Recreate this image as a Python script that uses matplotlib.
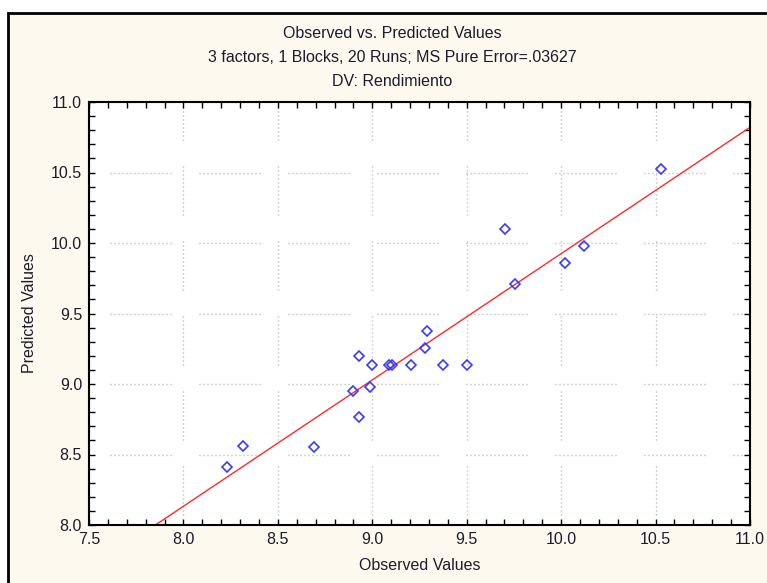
import numpy as np
import matplotlib.pyplot as plt
from matplotlib.patches import Rectangle
from matplotlib.ticker import MultipleLocator

# observed vs predicted values
observed = [10.529, 9.701, 10.123, 10.022, 9.756, 9.288, 9.281, 8.928, 8.997, 9.089,
            9.103, 9.205, 9.376, 9.502, 8.899, 8.988, 8.930, 8.317, 8.690, 8.231]
predicted = [10.525, 10.097, 9.977, 9.858, 9.707, 9.378, 9.257, 9.199, 9.133, 9.133,
             9.133, 9.133, 9.133, 9.133, 8.952, 8.977, 8.768, 8.560, 8.551, 8.411]

title_lines = ["Observed vs. Predicted Values",
               "3 factors, 1 Blocks, 20 Runs; MS Pure Error=.03627",
               "DV: Rendimiento"]

plt.rcParams['font.family'] = ['Liberation Sans', 'DejaVu Sans']

W, H = 767, 583
fig = plt.figure(figsize=(W / 100, H / 100), dpi=100, facecolor='white')

# cream panel with black frame (left/top edges visible)
fig.patches.append(Rectangle((8 / W, -0.05), 1.1, 1 - 13 / H + 0.05, transform=fig.transFigure,
                             facecolor='#fef9ee', edgecolor='black', linewidth=2, zorder=-5))

ax = fig.add_axes([89 / W, 1 - 525 / H, (750 - 89) / W, (525 - 102) / H])
ax.set_zorder(2)
ax.set_facecolor('white')

x = np.array(observed)
y = np.array(predicted)
slope, icpt = np.polyfit(x, y, 1)
xl = np.array([7.5, 11.0])
ax.plot(xl, icpt + slope * xl, color='#ff2a2a', lw=1.0, zorder=2)

ax.plot(x, y, linestyle='none', marker='D', markersize=4.8, markerfacecolor='none',
        markeredgecolor='#3a3aff', markeredgewidth=1.2, zorder=3)

ax.set_xlim(7.5, 11.0)
ax.set_ylim(8.0, 11.0)
ax.xaxis.set_major_locator(MultipleLocator(0.5))
ax.yaxis.set_major_locator(MultipleLocator(0.5))
ax.xaxis.set_minor_locator(MultipleLocator(0.1))
ax.yaxis.set_minor_locator(MultipleLocator(0.1))
ax.xaxis.set_major_formatter(lambda v, p: f"{v:.1f}")
ax.yaxis.set_major_formatter(lambda v, p: f"{v:.1f}")
ax.tick_params(which='both', direction='in', top=True, right=True, length=4, width=1,
               color='black', labelsize=11.5, labelcolor='#1c1c2c', pad=5)
for s in ax.spines.values():
    s.set_linewidth(1.5)

# broken dotted grid as drawn by the original software (dash lengths in px -> pt)
# agg keeps at most 16 dash pairs
px = 0.72
hdash = tuple(v * px for v in [1, 3] * 15 + [1, 28])
vdash = tuple(v * px for v in [1, 3] * 12 + [1, 26])
for v in ax.get_yticks()[1:-1]:
    ax.plot([7.5, 11.0], [v, v], color='#a8a8a8', lw=1, linestyle=(68 * px, hdash), zorder=1)
for v in ax.get_xticks()[1:-1]:
    ax.plot([v, v], [8.0, 11.0], color='#a8a8a8', lw=1, linestyle=(65 * px, vdash), zorder=1)
ax.set_xlim(7.5, 11.0)
ax.set_ylim(8.0, 11.0)

ax.set_xlabel("Observed Values", fontsize=11.5, color='#1c1c2c', labelpad=8)
ax.set_ylabel("Predicted Values", fontsize=11.5, color='#1c1c2c', labelpad=10)

for i, t in enumerate(title_lines):
    fig.text(392 / W, 1 - (33 + 24 * i) / H, t, ha='center', va='center',
             fontsize=11.5, color='#1c1c2c')

fig.savefig('out.png', dpi=100)
